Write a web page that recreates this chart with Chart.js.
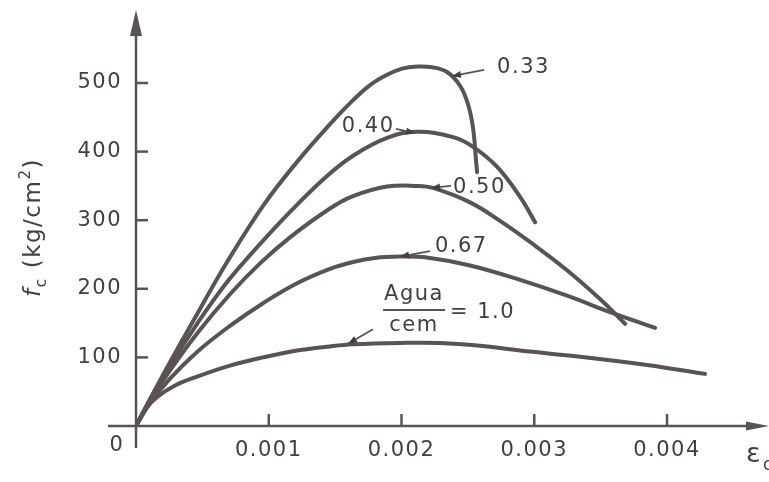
<!DOCTYPE html>
<html>
<head>
<meta charset="utf-8">
<script src="https://cdn.jsdelivr.net/npm/chart.js@4.4.1/dist/chart.umd.min.js"></script>
<style>
html,body{margin:0;padding:0;background:#fff;}
#wrap{width:769px;height:482px;}
</style>
</head>
<body>
<div id="wrap"><canvas id="c" width="769" height="482"></canvas></div>
<script>
// ---- data (strain ε_c, stress f_c in kg/cm²) ----
const ratioNames = ['0.33', '0.40', '0.50', '0.67', '1.0'];

const strain033 = [0, 0.000105, 0.000256, 0.00046, 0.000686, 0.000957, 0.001213, 0.001461, 0.001635, 0.001763, 0.001891, 0.002004, 0.002117, 0.00223, 0.002343, 0.002441, 0.002501, 0.002539, 0.002561, 0.002569];
const stress033 = [0, 39, 93, 163, 239, 321, 385, 440, 475, 497, 512, 521, 524, 523, 516, 496, 469, 434, 388, 370];

const strain040 = [0, 0.000105, 0.000256, 0.00046, 0.00067, 0.000859, 0.00116, 0.001424, 0.001635, 0.001891, 0.002117, 0.002388, 0.002539, 0.002719, 0.002893, 0.003006];
const stress040 = [0, 38, 88, 149, 206, 249, 312, 362, 394, 420, 429, 421, 407, 378, 334, 297];

const strain050 = [0, 0.000105, 0.000256, 0.00046, 0.000708, 0.000934, 0.00116, 0.001461, 0.001635, 0.001891, 0.002117, 0.002237, 0.002516, 0.002742, 0.002991, 0.003247, 0.003495, 0.003684];
const stress050 = [0, 36, 81, 135, 192, 237, 275, 317, 335, 349, 350, 347, 326, 299, 265, 227, 185, 149];

const strain067 = [0, 0.000105, 0.000256, 0.00046, 0.000708, 0.000957, 0.001213, 0.001461, 0.001635, 0.0018, 0.001989, 0.002177, 0.002516, 0.002893, 0.003247, 0.003571, 0.00391];
const stress067 = [0, 33, 69, 108, 146, 179, 208, 229, 239, 245, 247, 246, 234, 213, 190, 166, 143];

const strain100 = [0, 0.000068, 0.000158, 0.000294, 0.00046, 0.000708, 0.000957, 0.001213, 0.001461, 0.001635, 0.001989, 0.00229, 0.002591, 0.002893, 0.003345, 0.003849, 0.004286];
const stress100 = [0, 24, 42, 59, 72, 88, 100, 110, 116, 119, 121, 121, 117, 110, 101, 89, 76];

const xTickValues = [0.001, 0.002, 0.003, 0.004];
const xTickLabels = ['0.001', '0.002', '0.003', '0.004'];
const yTickValues = [100, 200, 300, 400, 500];
const yTickLabels = ['100', '200', '300', '400', '500'];

// ---- styling / layout ----
const LINE = '#5a5351';
const TEXT = '#443e3d';
const FONT = '"DejaVu Sans", "Open Sans", sans-serif';
const X_MAX = 0.004753;
const Y_MAX = 606.4;

// annotation placement (data units)
const curveNotes = [
  {text: '0.33', x: 0.00272,  y: 523, ax: 0.002621, ay: 519, tx: 0.00238,  ty: 510},
  {text: '0.40', x: 0.00155,  y: 436, ax: 0.001959, ay: 433, tx: 0.002102, ty: 427},
  {text: '0.50', x: 0.002388, y: 348, ax: 0.002373, ay: 350, tx: 0.002222, ty: 347},
  {text: '0.67', x: 0.002252, y: 261, ax: 0.002215, ay: 255, tx: 0.001989, ty: 247}
];
const fractionNote = {num: 'Agua', den: 'cem', rest: '= 1.0', cx: 0.002094, numY: 192, barY: 169, denY: 147, barX0: 0.001861, barX1: 0.002328, restX: 0.002365, restY: 166, ax: 0.001785, ay: 141, tx: 0.001597, ty: 120};

const series = [
  {strain: strain033, stress: stress033},
  {strain: strain040, stress: stress040},
  {strain: strain050, stress: stress050},
  {strain: strain067, stress: stress067},
  {strain: strain100, stress: stress100}
];

const datasets = series.map((s, k) => ({
  label: ratioNames[k],
  data: s.strain.map((v, i) => ({x: v, y: s.stress[i]})),
  borderColor: LINE,
  borderWidth: 4,
  pointRadius: 0,
  fill: false,
  tension: 0.4,
  borderCapStyle: 'round',
  borderJoinStyle: 'round'
}));

function setSpacing(chart) {
  try { chart.ctx.letterSpacing = '1.5px'; } catch (e) {}
}

function arrow(ctx, x1, y1, x2, y2) {
  ctx.beginPath(); ctx.moveTo(x1, y1); ctx.lineTo(x2, y2); ctx.stroke();
  const a = Math.atan2(y2 - y1, x2 - x1), L = 9, W = 3.5;
  ctx.beginPath();
  ctx.moveTo(x2, y2);
  ctx.lineTo(x2 - L * Math.cos(a) + W * Math.sin(a), y2 - L * Math.sin(a) - W * Math.cos(a));
  ctx.lineTo(x2 - L * Math.cos(a) - W * Math.sin(a), y2 - L * Math.sin(a) + W * Math.cos(a));
  ctx.closePath(); ctx.fill();
}

function zeroPad(s) { s.paddingTop = 0; s.paddingBottom = 0; s.paddingLeft = 0; s.paddingRight = 0; }

const decor = {
  id: 'decor',
  beforeUpdate: setSpacing,
  beforeLayout: setSpacing,
  beforeDraw: setSpacing,
  beforeDatasetsDraw(chart) {
    const {ctx, chartArea: a, scales: {x, y}} = chart;
    const x0 = x.getPixelForValue(0), y0 = y.getPixelForValue(0);
    ctx.save();
    ctx.strokeStyle = LINE; ctx.fillStyle = LINE; ctx.lineWidth = 2.5;
    // x axis line + arrow
    ctx.beginPath(); ctx.moveTo(x0 - 28, y0); ctx.lineTo(a.right - 18, y0); ctx.stroke();
    ctx.beginPath(); ctx.moveTo(a.right + 2, y0); ctx.lineTo(a.right - 21, y0 - 4.5); ctx.lineTo(a.right - 21, y0 + 4.5); ctx.closePath(); ctx.fill();
    // y axis line + arrow
    ctx.beginPath(); ctx.moveTo(x0, y0 + 22); ctx.lineTo(x0, a.top + 22); ctx.stroke();
    ctx.beginPath(); ctx.moveTo(x0, a.top); ctx.lineTo(x0 - 6, a.top + 26); ctx.lineTo(x0 + 6, a.top + 26); ctx.closePath(); ctx.fill();
    // inward tick marks
    yTickValues.forEach(v => { const py = y.getPixelForValue(v); ctx.beginPath(); ctx.moveTo(x0, py); ctx.lineTo(x0 + 12, py); ctx.stroke(); });
    xTickValues.forEach(v => { const px = x.getPixelForValue(v); ctx.beginPath(); ctx.moveTo(px, y0); ctx.lineTo(px, y0 - 12); ctx.stroke(); });
    ctx.restore();
  },
  afterDraw(chart) {
    const {ctx, scales: {x, y}} = chart;
    const x0 = x.getPixelForValue(0), y0 = y.getPixelForValue(0);
    ctx.save();
    setSpacing(chart);
    ctx.fillStyle = TEXT; ctx.strokeStyle = LINE;
    // origin "0"
    ctx.font = '21px ' + FONT; ctx.textAlign = 'center'; ctx.textBaseline = 'middle';
    ctx.fillText('0', x0 - 19, y0 + 20);
    // curve labels
    ctx.textAlign = 'left';
    ctx.lineWidth = 1.8;
    curveNotes.forEach(n => {
      ctx.fillText(n.text, x.getPixelForValue(n.x), y.getPixelForValue(n.y));
      arrow(ctx, x.getPixelForValue(n.ax), y.getPixelForValue(n.ay), x.getPixelForValue(n.tx), y.getPixelForValue(n.ty));
    });
    // fraction label
    const f = fractionNote;
    ctx.textAlign = 'center';
    ctx.textBaseline = 'alphabetic';
    ctx.fillText(f.num, x.getPixelForValue(f.cx), y.getPixelForValue(f.numY) + 6);
    ctx.fillText(f.den, x.getPixelForValue(f.cx), y.getPixelForValue(f.denY) + 6);
    ctx.lineWidth = 2;
    ctx.beginPath(); ctx.moveTo(x.getPixelForValue(f.barX0), y.getPixelForValue(f.barY)); ctx.lineTo(x.getPixelForValue(f.barX1), y.getPixelForValue(f.barY)); ctx.stroke();
    ctx.textAlign = 'left'; ctx.textBaseline = 'middle';
    ctx.fillText(f.rest, x.getPixelForValue(f.restX), y.getPixelForValue(f.restY));
    ctx.lineWidth = 1.8;
    arrow(ctx, x.getPixelForValue(f.ax), y.getPixelForValue(f.ay), x.getPixelForValue(f.tx), y.getPixelForValue(f.ty));
    // x axis label ε_c
    ctx.textAlign = 'left'; ctx.textBaseline = 'alphabetic';
    ctx.font = '27px ' + FONT;
    ctx.fillText('ε', 746, 462);
    ctx.font = '17px ' + FONT;
    ctx.fillText('c', 763, 470);
    // y axis label f_c (kg/cm²)
    ctx.translate(40, 297);
    ctx.rotate(-Math.PI / 2);
    let cx = 0;
    const part = (t, font, dy) => { ctx.font = font; ctx.fillText(t, cx, dy); cx += ctx.measureText(t).width; };
    part('f', 'italic 23px ' + FONT, 0);
    part('c', '16px ' + FONT, 6);
    part(' (kg/cm', '23px ' + FONT, 0);
    part('2', '15px ' + FONT, -10);
    part(')', '23px ' + FONT, 0);
    ctx.restore();
  }
};

new Chart(document.getElementById('c'), {
  type: 'line',
  data: {datasets},
  plugins: [decor],
  options: {
    responsive: false,
    animation: false,
    layout: {padding: {left: 0, right: 2, top: 10, bottom: 0}},
    plugins: {legend: {display: false}, tooltip: {enabled: false}},
    scales: {
      x: {
        type: 'linear', min: 0, max: X_MAX,
        grid: {display: false, drawTicks: false}, border: {display: false},
        afterBuildTicks: s => { s.ticks = xTickValues.map(v => ({value: v})); },
        afterFit: s => { s.height = 56; zeroPad(s); },
        ticks: {
          autoSkip: false, maxRotation: 0, padding: 12, color: TEXT,
          font: {family: FONT, size: 21},
          callback: v => { const i = xTickValues.indexOf(v); return i >= 0 ? xTickLabels[i] : ''; }
        }
      },
      y: {
        type: 'linear', min: 0, max: Y_MAX,
        grid: {display: false, drawTicks: false}, border: {display: false},
        afterBuildTicks: s => { s.ticks = yTickValues.map(v => ({value: v})); },
        afterFit: s => { s.width = 136; zeroPad(s); },
        ticks: {
          autoSkip: false, padding: 14, color: TEXT,
          font: {family: FONT, size: 21},
          callback: v => { const i = yTickValues.indexOf(v); return i >= 0 ? yTickLabels[i] : ''; }
        }
      }
    }
  }
});
</script>
</body>
</html>
